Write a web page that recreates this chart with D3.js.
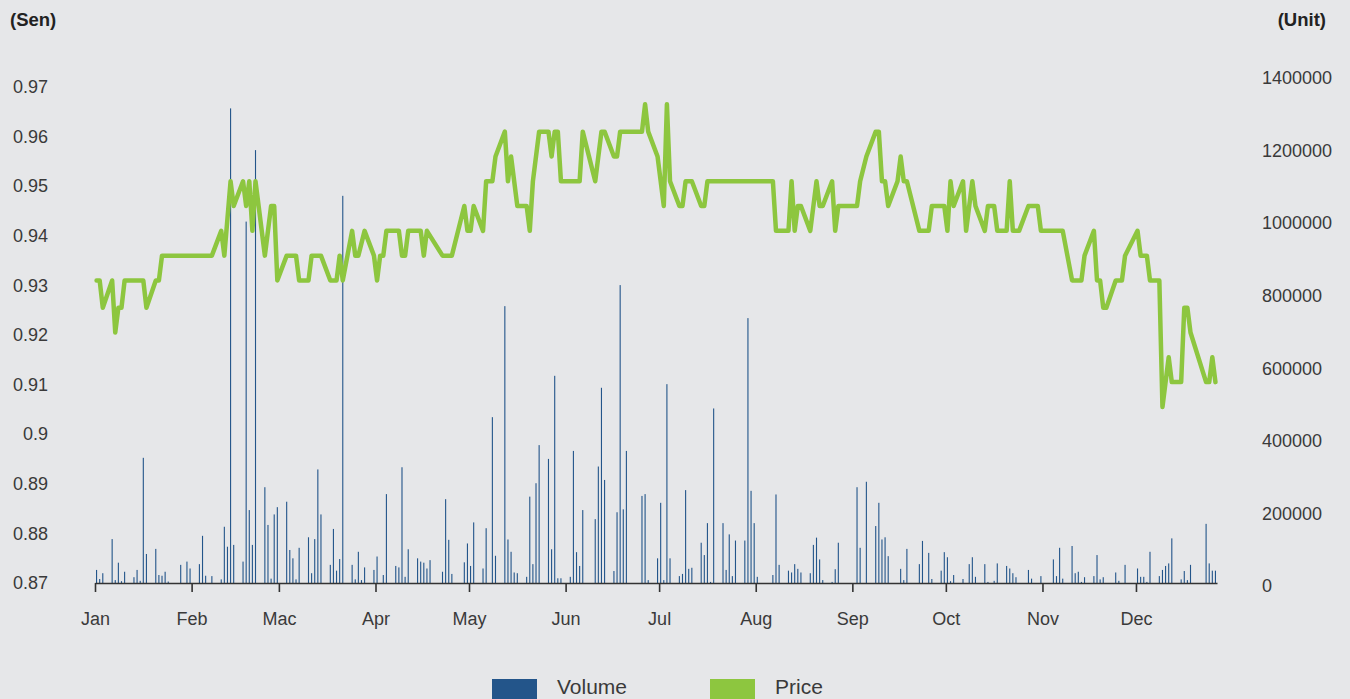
<!DOCTYPE html>
<html><head><meta charset="utf-8">
<script src="https://cdn.jsdelivr.net/npm/d3@7/dist/d3.min.js"></script>
<style>
body{margin:0;background:#e6e7e9;}
svg{display:block;font-family:"Liberation Sans",Arial,Helvetica,sans-serif;}
</style>
</head><body>
<svg id="chart" width="1350" height="699"></svg>
<script>
const year = 2014;
const monthLabels = ["Jan","Feb","Mac","Apr","May","Jun","Jul","Aug","Sep","Oct","Nov","Dec"];
const priceTicks = [0.87,0.88,0.89,0.9,0.91,0.92,0.93,0.94,0.95,0.96,0.97];
const volumeTicks = [0,200000,400000,600000,800000,1000000,1200000,1400000];

// day of year (0 = 1 Jan) for each price point
const priceDay = [0,1,2,5,6,7,8,9,15,16,19,20,21,37,40,41,43,44,47,48,
49,50,51,54,56,57,58,61,64,65,68,69,72,75,77,78,79,82,83,84,
86,89,90,91,92,93,97,98,99,100,104,105,106,111,114,118,119,120,121,124,
125,127,128,131,132,133,135,138,139,140,142,145,146,147,148,149,155,156,160,162,
163,166,167,168,175,176,177,180,182,183,184,187,188,189,191,194,195,196,217,218,
222,223,224,225,226,229,231,232,233,236,237,238,244,245,247,250,251,252,253,254,
257,258,259,260,264,267,268,272,273,274,275,278,279,281,282,285,286,288,289,292,
293,294,296,299,302,303,310,313,316,317,320,321,322,323,324,327,329,330,334,335,
337,338,341,342,344,345,348,349,350,351,356,357,358,359];
const priceValue = [.931,.931,.9255,.931,.9205,.9255,.9255,.931,.931,.9255,
.931,.931,.936,.936,.941,.936,.951,.946,.951,.946,
.951,.941,.951,.936,.946,.946,.931,.936,.936,.931,
.931,.936,.936,.931,.931,.936,.931,.941,.936,.936,
.941,.936,.931,.936,.936,.941,.941,.936,.936,.941,
.941,.936,.941,.936,.936,.946,.941,.941,.946,.941,
.951,.951,.956,.961,.951,.956,.946,.946,.941,.951,
.961,.961,.956,.961,.961,.951,.951,.961,.951,.961,
.961,.956,.956,.961,.961,.9665,.961,.956,.946,.9665,
.951,.946,.946,.951,.951,.946,.946,.951,.951,.941,
.941,.951,.941,.946,.946,.941,.951,.946,.946,.951,
.941,.946,.946,.951,.956,.961,.961,.951,.951,.946,
.951,.956,.951,.951,.941,.941,.946,.946,.941,.951,
.946,.951,.941,.951,.946,.941,.946,.946,.941,.941,
.951,.941,.941,.946,.946,.941,.941,.931,.931,.936,
.941,.931,.931,.9255,.9255,.931,.931,.936,.941,.936,
.936,.931,.931,.9055,.9155,.9105,.9105,.9255,.9255,.9205,
.9105,.9105,.9155,.9105];

// day of year for each volume bar
const volumeDay = [0,1,2,5,6,7,8,9,12,13,14,15,16,19,20,21,22,23,27,29,30,33,34,35,37,
40,41,42,43,44,47,48,49,50,51,54,55,56,57,58,61,62,63,64,65,68,69,70,71,72,
75,76,77,78,79,82,83,84,85,86,89,90,92,93,96,97,98,99,100,103,104,105,106,107,
111,112,113,114,118,119,120,121,124,125,127,128,131,132,133,134,135,138,139,140,141,142,
145,146,147,148,149,152,153,154,155,156,160,161,162,163,166,167,168,169,170,
175,176,177,180,181,182,183,184,187,188,189,190,191,194,195,196,197,198,
201,202,203,204,205,208,209,210,211,212,217,218,219,222,223,224,225,226,
229,230,231,232,233,236,237,238,244,245,247,250,251,252,253,254,258,259,260,
264,265,267,268,271,272,273,274,275,278,280,281,282,285,286,288,289,
292,293,294,295,299,300,303,307,308,309,310,313,314,315,316,317,320,321,322,323,
327,328,330,334,335,336,337,338,341,342,343,344,345,348,349,350,351,356,357,358,359];
const volumeValue = [36000,11000,27000,121000,8000,56000,5000,31000,16000,36000,6000,345000,80000,94000,22000,20000,31000,4000,50000,59000,40000,52000,130000,20000,19000,
10000,155000,100000,1308000,105000,59000,996000,201000,105000,1193000,264000,160000,12000,189000,209000,224000,91000,68000,10000,97000,126000,27000,121000,313000,189000,
50000,149000,34000,66000,1067000,50000,10000,86000,8000,43000,36000,73000,22000,245000,47000,43000,319000,17000,93000,68000,59000,56000,40000,63000,
31000,231000,119000,25000,57000,109000,47000,167000,40000,151000,457000,75000,763000,120000,86000,29000,27000,17000,238000,52000,275000,380000,
342000,93000,571000,13000,13000,17000,364000,85000,47000,201000,176000,321000,538000,284000,33000,195000,821000,203000,364000,
240000,245000,8000,68000,221000,8000,548000,68000,19000,25000,256000,39000,42000,111000,77000,165000,3000,481000,
165000,36000,134000,19000,117000,117000,730000,254000,165000,17000,22000,244000,50000,34000,29000,52000,39000,29000,
27000,105000,125000,65000,8000,3000,38000,111000,264000,97000,279000,157000,221000,120000,126000,74000,39000,8000,94000,
52000,116000,83000,11000,34000,85000,71000,5000,22000,11000,52000,71000,17000,52000,3000,6000,54000,
47000,40000,27000,16000,36000,12000,19000,65000,19000,97000,12000,102000,27000,31000,3000,16000,19000,77000,10000,16000,
29000,6000,50000,40000,17000,17000,3000,86000,19000,36000,47000,54000,123000,10000,33000,8000,50000,163000,54000,34000,34000];

const svg = d3.select("#chart");
svg.append("rect").attr("width",1350).attr("height",699).attr("fill","#e6e7e9");

const start = new Date(year,0,1);
const x = d3.scaleTime().domain([start, new Date(year,11,27)]).range([95,1217]);
const yP = d3.scaleLinear().domain([0.87,0.97]).range([583,87]);
const yV = d3.scaleLinear().domain([0,1400000]).range([583,75]);
const at = d => d3.timeHour.offset(d3.timeDay.offset(start, d), 12);

const volume = volumeDay.map((d,i)=>({date:at(d), v:volumeValue[i]}));
const price = priceDay.map((d,i)=>({date:at(d), p:priceValue[i]}));

// bars
svg.append("g").selectAll("rect").data(volume).join("rect")
  .attr("x", d=>x(d.date)-0.55)
  .attr("width", 1.1)
  .attr("y", d=>yV(d.v))
  .attr("height", d=>yV(0)-yV(d.v))
  .attr("fill", "#23558a");

// price line
svg.append("path").datum(price)
  .attr("fill","none")
  .attr("stroke","#8dc63f")
  .attr("stroke-width",4.5)
  .attr("stroke-linejoin","round")
  .attr("stroke-linecap","round")
  .attr("d", d3.line().x(d=>x(d.date)).y(d=>yP(d.p)));

const labelColor = "#3a3a3a";
// x axis
const months = d3.range(12).map(m=>new Date(year,m,1));
const xAxis = svg.append("g").attr("transform","translate(0,583)")
  .call(d3.axisBottom(x).tickValues(months).tickFormat((d,i)=>monthLabels[i])
        .tickSize(9).tickSizeOuter(0).tickPadding(20));
xAxis.select(".domain").attr("stroke","#333").attr("stroke-width",1.6);
xAxis.selectAll(".tick line").attr("stroke","#333").attr("stroke-width",1.6);
xAxis.selectAll("text").attr("font-size",18).attr("fill",labelColor)
  .attr("font-family","'Liberation Sans',Arial,sans-serif");

// left axis
const lAxis = svg.append("g").attr("transform","translate(48,0)")
  .call(d3.axisLeft(yP).tickValues(priceTicks).tickFormat(d=>String(+d.toFixed(2))).tickSize(0).tickPadding(0));
lAxis.select(".domain").remove();
lAxis.selectAll("text").attr("font-size",18).attr("fill",labelColor)
  .attr("font-family","'Liberation Sans',Arial,sans-serif");

// right axis
const rAxis = svg.append("g").attr("transform","translate(1262,3)")
  .call(d3.axisRight(yV).tickValues(volumeTicks).tickFormat(d3.format("d")).tickSize(0).tickPadding(0));
rAxis.select(".domain").remove();
rAxis.selectAll("text").attr("font-size",18).attr("fill",labelColor)
  .attr("font-family","'Liberation Sans',Arial,sans-serif");

// unit titles
svg.append("text").attr("x",10).attr("y",26).attr("font-size",18.5).attr("font-weight","bold")
  .attr("fill","#222").text("(Sen)");
svg.append("text").attr("x",1326).attr("y",26).attr("text-anchor","end").attr("font-size",18.5)
  .attr("font-weight","bold").attr("fill","#222").text("(Unit)");

// legend
const legend = [{label:"Volume", color:"#23558a", x:492},{label:"Price", color:"#8dc63f", x:710}];
const lg = svg.append("g");
legend.forEach(l=>{
  lg.append("rect").attr("x",l.x).attr("y",679).attr("width",45).attr("height",25).attr("fill",l.color);
  lg.append("text").attr("x",l.x+65).attr("y",694).attr("font-size",21).attr("fill",labelColor).text(l.label);
});
</script>
</body></html>
